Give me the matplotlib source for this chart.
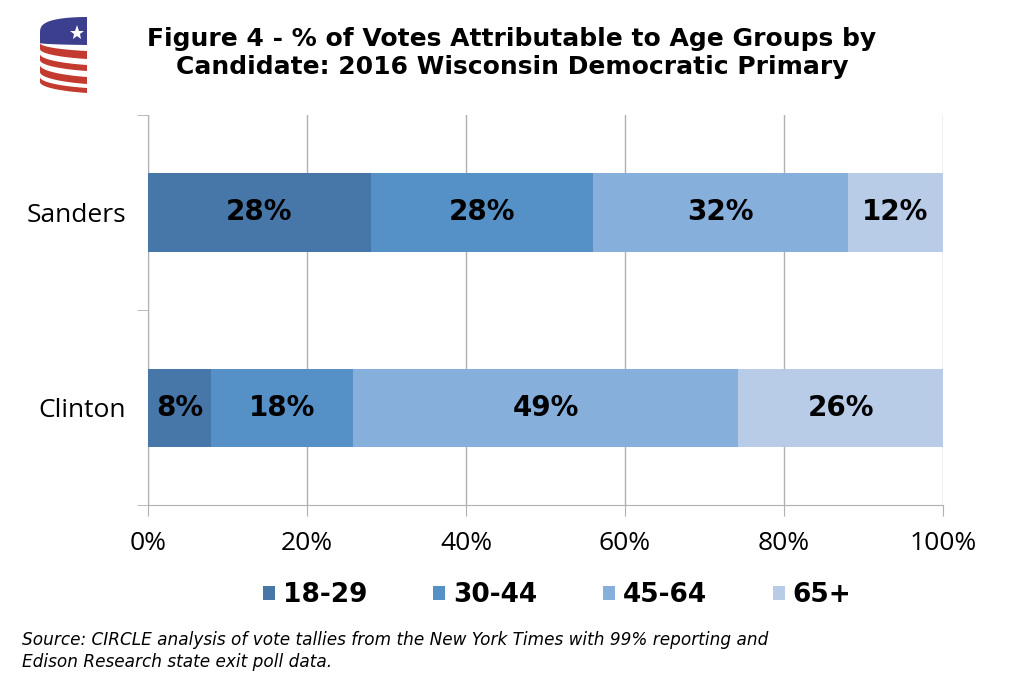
import numpy as np
import matplotlib
matplotlib.use("Agg")
from matplotlib import pyplot as plt
from matplotlib.patches import Polygon

# data
candidates = ["Clinton", "Sanders"]
age_groups = ["18-29", "30-44", "45-64", "65+"]
clinton = [8, 18, 49, 26]
sanders = [28, 28, 32, 12]
colors = ["#4677a8", "#5591c7", "#86afdb", "#b8cce8"]
xticks = [0, 20, 40, 60, 80, 100]

title = "Figure 4 - % of Votes Attributable to Age Groups by\nCandidate: 2016 Wisconsin Democratic Primary"
source = ("Source: CIRCLE analysis of vote tallies from the New York Times with 99% reporting and\n"
          "Edison Research state exit poll data.")

W, H = 1024, 685
fig = plt.figure(figsize=(W/100, H/100), dpi=100)
ax = fig.add_axes([148/W, 1-505/H, 795/W, 390/H])

vals = np.array([clinton, sanders], dtype=float)
shares = vals / vals.sum(axis=1, keepdims=True) * 100  # 100% stacked
left = np.zeros(len(candidates))
for k, grp in enumerate(age_groups):
    ax.barh(range(len(candidates)), shares[:, k], left=left, height=0.4,
            color=colors[k], label=grp, zorder=3)
    for i in range(len(candidates)):
        ax.text(left[i] + shares[i, k]/2, i, "%d%%" % vals[i, k],
                ha="center", va="center", fontsize=20, fontweight="bold",
                color="black", zorder=4)
    left += shares[:, k]

ax.set_xlim(0, 100)
ax.set_ylim(-0.5, 1.5)
ax.set_xticks(xticks)
ax.set_xticklabels(["%d%%" % t for t in xticks], fontsize=19, family="Open Sans")
ax.set_yticks(range(len(candidates)))
ax.set_yticklabels(candidates, fontsize=19, family="Open Sans")
ax.tick_params(axis="y", which="major", length=0, pad=16)
ax.set_yticks([-0.5, 0.5, 1.5], minor=True)
ax.tick_params(axis="y", which="minor", length=8, color="#b0b0b0")
ax.tick_params(axis="x", length=8, color="#b0b0b0", pad=11)
ax.grid(axis="x", color="#b0b0b0", linewidth=1, zorder=0)
for s in ["top", "right"]:
    ax.spines[s].set_visible(False)
for s in ["left", "bottom"]:
    ax.spines[s].set_color("#b0b0b0")

fig.legend(loc="center", bbox_to_anchor=(557/W, 1-595/H), ncol=4,
           frameon=False, prop={"size": 19, "weight": "bold"},
           handlelength=0.45, handleheight=0.45, handletextpad=0.3,
           columnspacing=2.5)

fig.text(0.5, 1-53/H, title, ha="center", va="center", fontsize=18,
         fontweight="bold", linespacing=1.2)
fig.text(22/W, 1-651/H, source, ha="left", va="center", fontsize=12.2,
         style="italic", linespacing=1.3)

# logo, drawn in image pixel coordinates
lg = fig.add_axes([34/W, 1-98/H, 60/W, 86/H])
lg.set_xlim(34, 94)
lg.set_ylim(98, 12)
lg.axis("off")
t0 = np.arcsin(33/80.)
t = np.linspace(t0, np.pi/2, 60)
xs = 120 - 80*np.sin(t)
c = np.cos(t)/np.cos(t0)

def stripe(top_l, top_r, bot_l, bot_r, color, curve=c):
    top = top_l + (top_r - top_l)*curve
    bot = bot_l + (bot_r - bot_l)*c
    pts = np.vstack([np.column_stack([xs, top]), np.column_stack([xs[::-1], bot[::-1]])])
    lg.add_patch(Polygon(pts, closed=True, color=color, lw=0))

navy = "#3c3f8e"
red = "#c23b2e"
stripe(34, 17, 43, 45, navy, curve=np.cos(np.linspace(0, np.pi/2, 60))**0.6)
stripe(43, 51, 49, 59, red)
stripe(54, 65, 60, 71, red)
stripe(65, 77, 72, 84, red)
stripe(77, 88, 82, 93, red)
lg.plot([77], [33], marker="*", color="white", markersize=11, markeredgewidth=0)

fig.savefig("out.png", dpi=100)
